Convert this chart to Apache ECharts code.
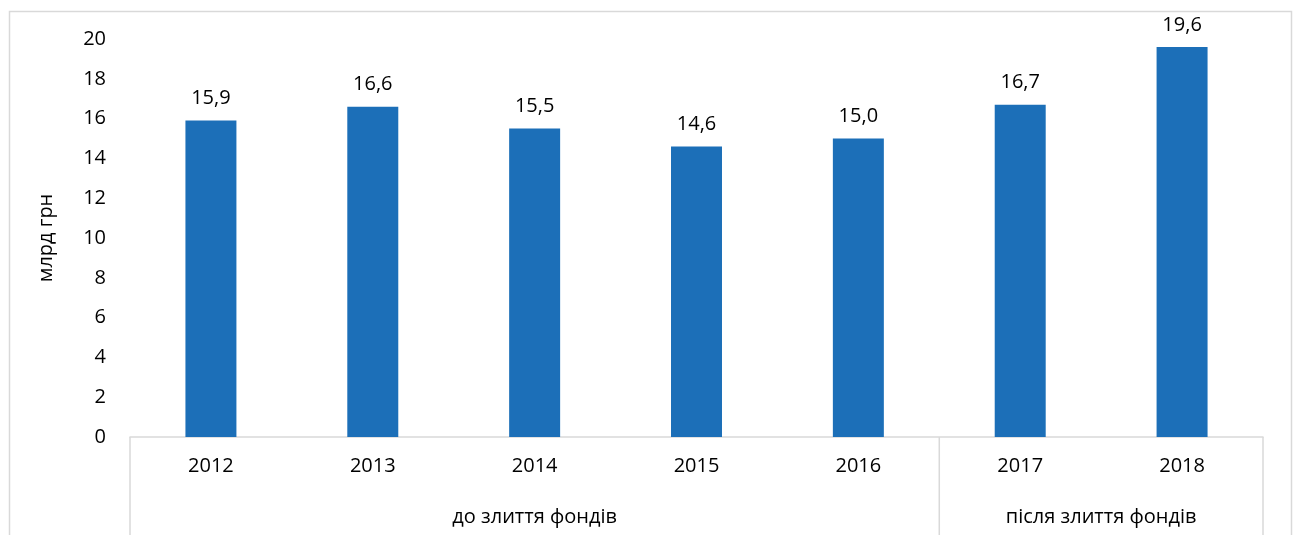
<!DOCTYPE html>
<html>
<head>
<meta charset="utf-8">
<script src="https://cdn.jsdelivr.net/npm/echarts@6/dist/echarts.min.js"></script>
<style>
  html, body { margin: 0; padding: 0; background: #fff; }
  #main { width: 1297px; height: 535px; }
</style>
</head>
<body>
<div id="main"></div>
<script>
// дані
var years = ['2012', '2013', '2014', '2015', '2016', '2017', '2018'];
var values = [15.9, 16.6, 15.5, 14.6, 15.0, 16.7, 19.6];
var groupNames = ['до злиття фондів', 'після злиття фондів'];
var groupSizes = [5, 2];
var yTicks = [0, 2, 4, 6, 8, 10, 12, 14, 16, 18, 20];

var FONT = '"Open Sans", "Liberation Sans", sans-serif';
var FS = 20;
var LINE = '#d9d9d9';

var myChart = echarts.init(document.getElementById('main'));

var option = {
    backgroundColor: '#fff',
    animation: false,
    grid: { left: 130, right: 34, top: 39, bottom: 98 },
    xAxis: {
        type: 'category',
        data: years,
        axisLine: { show: true, lineStyle: { color: LINE, width: 1.5 } },
        axisTick: { show: false },
        axisLabel: { color: '#000', fontSize: FS, fontFamily: FONT, margin: 19 }
    },
    yAxis: {
        type: 'value',
        min: yTicks[0],
        max: yTicks[yTicks.length - 1],
        interval: 2,
        axisLine: { show: false },
        axisTick: { show: false },
        splitLine: { show: false },
        axisLabel: { color: '#000', fontSize: FS, fontFamily: FONT, margin: 24 },
        name: 'млрд грн',
        nameLocation: 'middle',
        nameRotate: 90,
        nameGap: 74,
        nameTextStyle: { color: '#000', fontSize: FS, fontFamily: FONT, padding: [0, 0, 0, 0] }
    },
    series: [{
        type: 'bar',
        data: values,
        barWidth: '31.5%',
        itemStyle: { color: '#1c6fb8' },
        label: {
            show: true,
            position: 'top',
            distance: 12,
            color: '#000',
            fontSize: FS,
            fontFamily: FONT,
            formatter: function (p) { return p.value.toFixed(1).replace('.', ','); }
        }
    }]
};
myChart.setOption(option);

// розділювачі груп та підписи груп під віссю
function drawGroups() {
    var x0 = myChart.convertToPixel({ xAxisIndex: 0 }, years[0]);
    var x1 = myChart.convertToPixel({ xAxisIndex: 0 }, years[1]);
    var band = x1 - x0;
    var yBase = myChart.convertToPixel({ yAxisIndex: 0 }, 0);
    var els = [];
    // рамка навколо діаграми
    els.push({
        type: 'rect', silent: true,
        shape: { x: 9.5, y: 11.5, width: 1282, height: 540 },
        style: { fill: null, stroke: LINE, lineWidth: 1.5 }
    });
    var start = 0;
    var edges = [x0 - band / 2];
    for (var g = 0; g < groupNames.length; g++) {
        var left = x0 + (start - 0.5) * band;
        var right = x0 + (start + groupSizes[g] - 0.5) * band;
        edges.push(right);
        els.push({
            type: 'text', silent: true,
            style: {
                x: (left + right) / 2, y: yBase + 80,
                text: groupNames[g],
                fill: '#000', font: FS + 'px ' + FONT,
                textAlign: 'center', textVerticalAlign: 'middle'
            }
        });
        start += groupSizes[g];
    }
    edges.forEach(function (e) {
        els.push({
            type: 'line', silent: true,
            shape: { x1: e, y1: yBase, x2: e, y2: 535 },
            style: { stroke: LINE, lineWidth: 1.5 }
        });
    });
    myChart.setOption({ graphic: els });
}
drawGroups();
</script>
</body>
</html>
